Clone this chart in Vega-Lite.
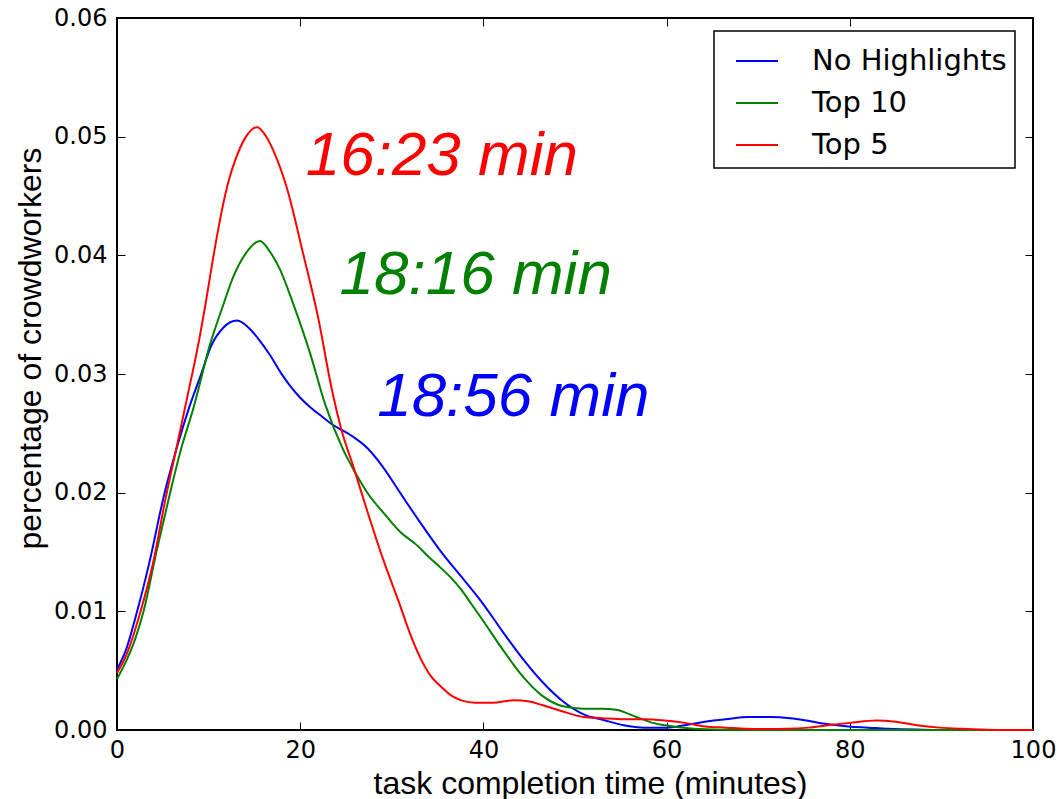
{
  "$schema": "https://vega.github.io/schema/vega-lite/v6.json",
  "autosize": "none",
  "width": 916,
  "height": 712,
  "padding": {"left": 117, "top": 18, "right": 28, "bottom": 69},
  "background": "white",
  "config": {
    "view": {"stroke": "black", "strokeWidth": 2},
    "axis": {
      "domain": false,
      "grid": false,
      "tickColor": "black",
      "tickWidth": 1,
      "tickSize": -8,
      "labelFlush": false,
      "labelOverlap": false,
      "labelColor": "black",
      "labelFont": "DejaVu Sans",
      "labelFontSize": 24,
      "titleColor": "black",
      "titleFont": "Liberation Sans",
      "titleFontSize": 32,
      "titleFontWeight": "normal"
    },
    "legend": {
      "orient": "none",
      "legendX": 597,
      "legendY": 13,
      "strokeColor": "black",
      "strokeWidth": 1.5,
      "fillColor": "white",
      "padding": 8,
      "labelFont": "DejaVu Sans",
      "labelFontSize": 29,
      "labelColor": "black",
      "labelLimit": 0,
      "symbolType": "stroke",
      "symbolSize": 1764,
      "symbolStrokeWidth": 2,
      "symbolOffset": 13,
      "rowPadding": 5,
      "labelOffset": 33,
      "cornerRadius": 0
    }
  },
  "datasets": {
    "curves": [
      {"t": 0, "v": 0.0051, "s": "No Highlights"},
      {"t": 1, "v": 0.0068, "s": "No Highlights"},
      {"t": 2.2, "v": 0.0100, "s": "No Highlights"},
      {"t": 3.5, "v": 0.0140, "s": "No Highlights"},
      {"t": 5.2, "v": 0.0200, "s": "No Highlights"},
      {"t": 6.5, "v": 0.0237, "s": "No Highlights"},
      {"t": 7.8, "v": 0.0270, "s": "No Highlights"},
      {"t": 9.1, "v": 0.0298, "s": "No Highlights"},
      {"t": 10.3, "v": 0.0324, "s": "No Highlights"},
      {"t": 11.6, "v": 0.0339, "s": "No Highlights"},
      {"t": 13.1, "v": 0.0345, "s": "No Highlights"},
      {"t": 14.5, "v": 0.0338, "s": "No Highlights"},
      {"t": 15.6, "v": 0.0328, "s": "No Highlights"},
      {"t": 16.7, "v": 0.0316, "s": "No Highlights"},
      {"t": 17.8, "v": 0.0302, "s": "No Highlights"},
      {"t": 18.9, "v": 0.0290, "s": "No Highlights"},
      {"t": 20, "v": 0.0280, "s": "No Highlights"},
      {"t": 21.1, "v": 0.0272, "s": "No Highlights"},
      {"t": 22.4, "v": 0.0264, "s": "No Highlights"},
      {"t": 23.6, "v": 0.0257, "s": "No Highlights"},
      {"t": 25.4, "v": 0.0249, "s": "No Highlights"},
      {"t": 27.4, "v": 0.0237, "s": "No Highlights"},
      {"t": 29, "v": 0.0222, "s": "No Highlights"},
      {"t": 30.9, "v": 0.0200, "s": "No Highlights"},
      {"t": 33, "v": 0.0176, "s": "No Highlights"},
      {"t": 35.3, "v": 0.0151, "s": "No Highlights"},
      {"t": 37.5, "v": 0.0130, "s": "No Highlights"},
      {"t": 39.8, "v": 0.0108, "s": "No Highlights"},
      {"t": 42, "v": 0.0084, "s": "No Highlights"},
      {"t": 44.2, "v": 0.0061, "s": "No Highlights"},
      {"t": 46.5, "v": 0.0040, "s": "No Highlights"},
      {"t": 48.7, "v": 0.0024, "s": "No Highlights"},
      {"t": 51, "v": 0.0013, "s": "No Highlights"},
      {"t": 53.1, "v": 0.00085, "s": "No Highlights"},
      {"t": 55.3, "v": 0.0004, "s": "No Highlights"},
      {"t": 57.6, "v": 0.0002, "s": "No Highlights"},
      {"t": 60, "v": 0.0002, "s": "No Highlights"},
      {"t": 62, "v": 0.0004, "s": "No Highlights"},
      {"t": 64.2, "v": 0.0007, "s": "No Highlights"},
      {"t": 66.4, "v": 0.0009, "s": "No Highlights"},
      {"t": 69, "v": 0.0011, "s": "No Highlights"},
      {"t": 71.3, "v": 0.0011, "s": "No Highlights"},
      {"t": 73.5, "v": 0.0010, "s": "No Highlights"},
      {"t": 75.3, "v": 0.0008, "s": "No Highlights"},
      {"t": 77.5, "v": 0.0005, "s": "No Highlights"},
      {"t": 79.8, "v": 0.0003, "s": "No Highlights"},
      {"t": 82, "v": 0.0002, "s": "No Highlights"},
      {"t": 84.2, "v": 0.0001, "s": "No Highlights"},
      {"t": 88, "v": 0.00003, "s": "No Highlights"},
      {"t": 92, "v": 0, "s": "No Highlights"},
      {"t": 100, "v": 0, "s": "No Highlights"},

      {"t": 0, "v": 0.0043, "s": "Top 10"},
      {"t": 1, "v": 0.0058, "s": "Top 10"},
      {"t": 2, "v": 0.0077, "s": "Top 10"},
      {"t": 2.9, "v": 0.0100, "s": "Top 10"},
      {"t": 4.3, "v": 0.0150, "s": "Top 10"},
      {"t": 5.8, "v": 0.0200, "s": "Top 10"},
      {"t": 7, "v": 0.0237, "s": "Top 10"},
      {"t": 8.3, "v": 0.0270, "s": "Top 10"},
      {"t": 10.2, "v": 0.0326, "s": "Top 10"},
      {"t": 11.5, "v": 0.0356, "s": "Top 10"},
      {"t": 12.7, "v": 0.0382, "s": "Top 10"},
      {"t": 14, "v": 0.0401, "s": "Top 10"},
      {"t": 15.6, "v": 0.0412, "s": "Top 10"},
      {"t": 16.7, "v": 0.0403, "s": "Top 10"},
      {"t": 17.8, "v": 0.0388, "s": "Top 10"},
      {"t": 19.2, "v": 0.0360, "s": "Top 10"},
      {"t": 21.1, "v": 0.0317, "s": "Top 10"},
      {"t": 22.7, "v": 0.0275, "s": "Top 10"},
      {"t": 24.7, "v": 0.0236, "s": "Top 10"},
      {"t": 26, "v": 0.0217, "s": "Top 10"},
      {"t": 27.5, "v": 0.0198, "s": "Top 10"},
      {"t": 29.1, "v": 0.0183, "s": "Top 10"},
      {"t": 30.9, "v": 0.0167, "s": "Top 10"},
      {"t": 32.7, "v": 0.0156, "s": "Top 10"},
      {"t": 34, "v": 0.0146, "s": "Top 10"},
      {"t": 35.3, "v": 0.0137, "s": "Top 10"},
      {"t": 36.5, "v": 0.0128, "s": "Top 10"},
      {"t": 37.6, "v": 0.0118, "s": "Top 10"},
      {"t": 38.7, "v": 0.0106, "s": "Top 10"},
      {"t": 39.8, "v": 0.0094, "s": "Top 10"},
      {"t": 42, "v": 0.0069, "s": "Top 10"},
      {"t": 44.2, "v": 0.0046, "s": "Top 10"},
      {"t": 46.4, "v": 0.0029, "s": "Top 10"},
      {"t": 48.7, "v": 0.0020, "s": "Top 10"},
      {"t": 50.9, "v": 0.0018, "s": "Top 10"},
      {"t": 53, "v": 0.0018, "s": "Top 10"},
      {"t": 54.5, "v": 0.0017, "s": "Top 10"},
      {"t": 56.7, "v": 0.0011, "s": "Top 10"},
      {"t": 58.5, "v": 0.0006, "s": "Top 10"},
      {"t": 59.8, "v": 0.0004, "s": "Top 10"},
      {"t": 62.9, "v": 0.0001, "s": "Top 10"},
      {"t": 66, "v": 0.00002, "s": "Top 10"},
      {"t": 70, "v": 0, "s": "Top 10"},
      {"t": 100, "v": 0, "s": "Top 10"},

      {"t": 0, "v": 0.0048, "s": "Top 5"},
      {"t": 1, "v": 0.0063, "s": "Top 5"},
      {"t": 2.5, "v": 0.0098, "s": "Top 5"},
      {"t": 4, "v": 0.0143, "s": "Top 5"},
      {"t": 5.3, "v": 0.0195, "s": "Top 5"},
      {"t": 6.5, "v": 0.0238, "s": "Top 5"},
      {"t": 7.6, "v": 0.0278, "s": "Top 5"},
      {"t": 9.0, "v": 0.0330, "s": "Top 5"},
      {"t": 9.6, "v": 0.0356, "s": "Top 5"},
      {"t": 10.5, "v": 0.0398, "s": "Top 5"},
      {"t": 11.4, "v": 0.0436, "s": "Top 5"},
      {"t": 12.2, "v": 0.0463, "s": "Top 5"},
      {"t": 12.9, "v": 0.0480, "s": "Top 5"},
      {"t": 14, "v": 0.0499, "s": "Top 5"},
      {"t": 15.3, "v": 0.0508, "s": "Top 5"},
      {"t": 16.3, "v": 0.0500, "s": "Top 5"},
      {"t": 17.2, "v": 0.0486, "s": "Top 5"},
      {"t": 18.5, "v": 0.0458, "s": "Top 5"},
      {"t": 20.3, "v": 0.0402, "s": "Top 5"},
      {"t": 22.0, "v": 0.0346, "s": "Top 5"},
      {"t": 23.4, "v": 0.0289, "s": "Top 5"},
      {"t": 24.5, "v": 0.0253, "s": "Top 5"},
      {"t": 25.8, "v": 0.0222, "s": "Top 5"},
      {"t": 27.3, "v": 0.0185, "s": "Top 5"},
      {"t": 29, "v": 0.0145, "s": "Top 5"},
      {"t": 30.9, "v": 0.0105, "s": "Top 5"},
      {"t": 32, "v": 0.0081, "s": "Top 5"},
      {"t": 33.1, "v": 0.0061, "s": "Top 5"},
      {"t": 34.2, "v": 0.0046, "s": "Top 5"},
      {"t": 35.3, "v": 0.0037, "s": "Top 5"},
      {"t": 36.5, "v": 0.0029, "s": "Top 5"},
      {"t": 37.6, "v": 0.0025, "s": "Top 5"},
      {"t": 39.1, "v": 0.0023, "s": "Top 5"},
      {"t": 41, "v": 0.0023, "s": "Top 5"},
      {"t": 43.3, "v": 0.0025, "s": "Top 5"},
      {"t": 45, "v": 0.0024, "s": "Top 5"},
      {"t": 46.4, "v": 0.0021, "s": "Top 5"},
      {"t": 48.5, "v": 0.0016, "s": "Top 5"},
      {"t": 50.9, "v": 0.0011, "s": "Top 5"},
      {"t": 53, "v": 0.0010, "s": "Top 5"},
      {"t": 55.3, "v": 0.0009, "s": "Top 5"},
      {"t": 57.5, "v": 0.0009, "s": "Top 5"},
      {"t": 59.8, "v": 0.0008, "s": "Top 5"},
      {"t": 62, "v": 0.0006, "s": "Top 5"},
      {"t": 64.2, "v": 0.0003, "s": "Top 5"},
      {"t": 66.5, "v": 0.0002, "s": "Top 5"},
      {"t": 68.7, "v": 0.0001, "s": "Top 5"},
      {"t": 71, "v": 0.00008, "s": "Top 5"},
      {"t": 73.1, "v": 0.0001, "s": "Top 5"},
      {"t": 75.5, "v": 0.0002, "s": "Top 5"},
      {"t": 77.6, "v": 0.0004, "s": "Top 5"},
      {"t": 80, "v": 0.0006, "s": "Top 5"},
      {"t": 82.9, "v": 0.0008, "s": "Top 5"},
      {"t": 85, "v": 0.0007, "s": "Top 5"},
      {"t": 87.3, "v": 0.0004, "s": "Top 5"},
      {"t": 89.8, "v": 0.0002, "s": "Top 5"},
      {"t": 92.2, "v": 0.0001, "s": "Top 5"},
      {"t": 95, "v": 0.00003, "s": "Top 5"},
      {"t": 97.6, "v": 0, "s": "Top 5"},
      {"t": 100, "v": 0, "s": "Top 5"}
    ],
    "labels": [
      {"t": 20.6, "v": 0.0468, "label": "16:23 min", "s": "Top 5"},
      {"t": 24.3, "v": 0.0367, "label": "18:16 min", "s": "Top 10"},
      {"t": 28.4, "v": 0.0265, "label": "18:56 min", "s": "No Highlights"}
    ]
  },
  "layer": [
    {
      "data": {"name": "curves"},
      "mark": {"type": "line", "interpolate": "monotone", "strokeWidth": 2},
      "encoding": {
        "x": {
          "field": "t", "type": "quantitative",
          "scale": {"domain": [0, 100], "nice": false},
          "axis": {"values": [0, 20, 40, 60, 80, 100], "title": "task completion time (minutes)", "labelPadding": 16, "titlePadding": 6, "titleX": 473}
        },
        "y": {
          "field": "v", "type": "quantitative",
          "scale": {"domain": [0, 0.06], "nice": false},
          "axis": {"values": [0, 0.01, 0.02, 0.03, 0.04, 0.05, 0.06], "format": ".2f", "title": "percentage of crowdworkers", "labelPadding": 18, "titlePadding": 6, "titleY": 330}
        },
        "color": {
          "field": "s", "type": "nominal",
          "scale": {"domain": ["No Highlights", "Top 10", "Top 5"], "range": ["#0000ff", "#008000", "#ff0000"]},
          "legend": {"title": null}
        }
      }
    },
    {
      "data": {"name": "curves"},
      "mark": {"type": "point", "opacity": 0},
      "encoding": {
        "x": {
          "field": "t", "type": "quantitative",
          "axis": {"orient": "top", "values": [0, 20, 40, 60, 80, 100], "labels": false, "title": null}
        },
        "y": {
          "field": "v", "type": "quantitative",
          "axis": {"orient": "right", "values": [0, 0.01, 0.02, 0.03, 0.04, 0.05, 0.06], "labels": false, "title": null}
        }
      }
    },
    {
      "data": {"name": "labels"},
      "transform": [{"filter": "datum.s === 'Top 5'"}],
      "mark": {"type": "text", "align": "left", "baseline": "alphabetic", "font": "Liberation Sans", "fontStyle": "italic", "fontSize": 62, "color": "#ff0000"},
      "encoding": {
        "x": {"field": "t", "type": "quantitative", "axis": null},
        "y": {"field": "v", "type": "quantitative", "axis": null},
        "text": {"field": "label"}
      }
    },
    {
      "data": {"name": "labels"},
      "transform": [{"filter": "datum.s === 'Top 10'"}],
      "mark": {"type": "text", "align": "left", "baseline": "alphabetic", "font": "Liberation Sans", "fontStyle": "italic", "fontSize": 62, "color": "#008000"},
      "encoding": {
        "x": {"field": "t", "type": "quantitative", "axis": null},
        "y": {"field": "v", "type": "quantitative", "axis": null},
        "text": {"field": "label"}
      }
    },
    {
      "data": {"name": "labels"},
      "transform": [{"filter": "datum.s === 'No Highlights'"}],
      "mark": {"type": "text", "align": "left", "baseline": "alphabetic", "font": "Liberation Sans", "fontStyle": "italic", "fontSize": 62, "color": "#0000ff"},
      "encoding": {
        "x": {"field": "t", "type": "quantitative", "axis": null},
        "y": {"field": "v", "type": "quantitative", "axis": null},
        "text": {"field": "label"}
      }
    }
  ],
  "resolve": {"axis": {"x": "independent", "y": "independent"}}
}
